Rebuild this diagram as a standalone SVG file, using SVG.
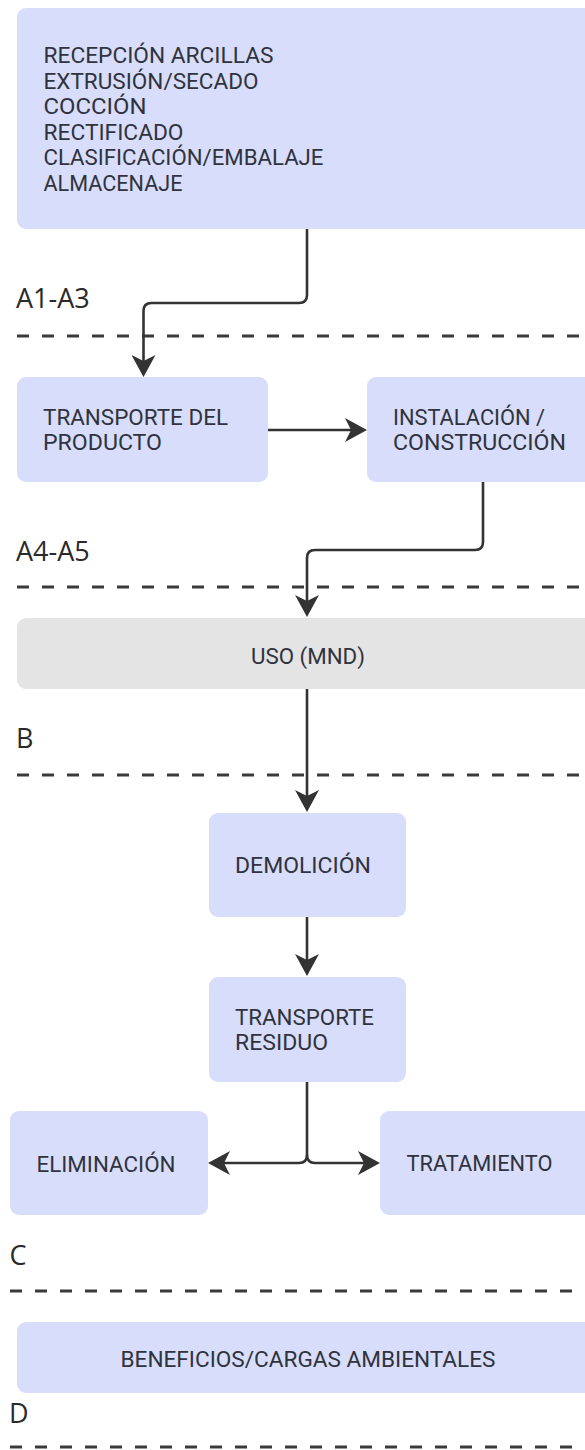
<svg xmlns="http://www.w3.org/2000/svg" width="585" height="1450" viewBox="0 0 585 1450">
<style>
.box{fill:#d7ddfa;}
.grey{fill:#e4e4e4;}
.t{font-family:Roboto,"Liberation Sans",sans-serif;font-size:22.5px;fill:#30333d;}
.lbl{font-family:"Open Sans","Noto Sans",sans-serif;font-size:27px;fill:#2a2a2a;}
.dash{stroke:#3a3a3a;stroke-width:3;stroke-dasharray:12 13;fill:none;}
.c{stroke:#333;stroke-width:2.6;fill:none;marker-end:url(#ah);}
</style>
<defs>
<marker id="ah" markerUnits="userSpaceOnUse" markerWidth="22" markerHeight="24" viewBox="0 0 22 24" refX="11" refY="12" orient="auto">
<path d="M0,0 L22,12 L0,24 L6,12 Z" fill="#333"/>
</marker>
</defs>
<rect width="585" height="1450" fill="#ffffff"/>

<g id="phases">
<line class="dash" x1="17" y1="336" x2="585" y2="336"/>
<line class="dash" x1="17" y1="587" x2="585" y2="587"/>
<line class="dash" x1="17" y1="775" x2="585" y2="775"/>
<line class="dash" x1="10" y1="1291" x2="585" y2="1291"/>
<line class="dash" x1="10" y1="1447" x2="585" y2="1447"/>
<text class="lbl" x="16" y="308">A1-A3</text>
<text class="lbl" x="16" y="561">A4-A5</text>
<text class="lbl" x="16" y="748">B</text>
<text class="lbl" x="9.5" y="1265">C</text>
<text class="lbl" x="9" y="1423">D</text>
</g>

<g id="n-produccion">
<rect class="box" x="17" y="8" width="600" height="221" rx="9"/>
<text class="t" x="43.5" y="63" textLength="230" lengthAdjust="spacingAndGlyphs">RECEPCIÓN ARCILLAS</text>
<text class="t" x="43.5" y="88.5" textLength="215" lengthAdjust="spacingAndGlyphs">EXTRUSIÓN/SECADO</text>
<text class="t" x="43.5" y="114" textLength="103" lengthAdjust="spacingAndGlyphs">COCCIÓN</text>
<text class="t" x="43.5" y="139.5" textLength="140" lengthAdjust="spacingAndGlyphs">RECTIFICADO</text>
<text class="t" x="43.5" y="165" textLength="280" lengthAdjust="spacingAndGlyphs">CLASIFICACIÓN/EMBALAJE</text>
<text class="t" x="43.5" y="190.5" textLength="139" lengthAdjust="spacingAndGlyphs">ALMACENAJE</text>
</g>

<g id="n-transporte-producto">
<rect class="box" x="17" y="377" width="251" height="105" rx="9"/>
<text class="t" x="43" y="425" textLength="185" lengthAdjust="spacingAndGlyphs">TRANSPORTE DEL</text>
<text class="t" x="43" y="450" textLength="119" lengthAdjust="spacingAndGlyphs">PRODUCTO</text>
</g>

<g id="n-instalacion">
<rect class="box" x="367" y="377" width="260" height="105" rx="9"/>
<text class="t" x="393" y="425" textLength="152" lengthAdjust="spacingAndGlyphs">INSTALACIÓN /</text>
<text class="t" x="393" y="450" textLength="173" lengthAdjust="spacingAndGlyphs">CONSTRUCCIÓN</text>
</g>

<g id="n-uso">
<rect class="grey" x="17" y="618" width="600" height="71" rx="9"/>
<text class="t" x="308" y="664" text-anchor="middle" textLength="114" lengthAdjust="spacingAndGlyphs">USO (MND)</text>
</g>

<g id="n-demolicion">
<rect class="box" x="209" y="813" width="197" height="104" rx="9"/>
<text class="t" x="235" y="873" textLength="136" lengthAdjust="spacingAndGlyphs">DEMOLICIÓN</text>
</g>

<g id="n-transporte-residuo">
<rect class="box" x="209" y="977" width="197" height="105" rx="9"/>
<text class="t" x="235" y="1025" textLength="139" lengthAdjust="spacingAndGlyphs">TRANSPORTE</text>
<text class="t" x="235" y="1050" textLength="93" lengthAdjust="spacingAndGlyphs">RESIDUO</text>
</g>

<g id="n-eliminacion">
<rect class="box" x="10" y="1111" width="198" height="104" rx="9"/>
<text class="t" x="36.5" y="1171.5" textLength="139" lengthAdjust="spacingAndGlyphs">ELIMINACIÓN</text>
</g>

<g id="n-tratamiento">
<rect class="box" x="380" y="1111" width="240" height="104" rx="9"/>
<text class="t" x="406.5" y="1171" textLength="146" lengthAdjust="spacingAndGlyphs">TRATAMIENTO</text>
</g>

<g id="n-beneficios">
<rect class="box" x="17" y="1322" width="600" height="71" rx="9"/>
<text class="t" x="308" y="1367" text-anchor="middle" textLength="375" lengthAdjust="spacingAndGlyphs">BENEFICIOS/CARGAS AMBIENTALES</text>
</g>

<g id="connectors">
<path class="c" d="M307,229 V295 Q307,303 299,303 H151.5 Q143.5,303 143.5,311 V366"/>
<path class="c" d="M268,430 H356"/>
<path class="c" d="M483,482 V542 Q483,550 475,550 H315 Q307,550 307,558 V606"/>
<path class="c" d="M307,689 V801"/>
<path class="c" d="M307,917 V965"/>
<path class="c" d="M307,1082 V1155 Q307,1163 299,1163 H219"/>
<path class="c" d="M307,1155 Q307,1163 315,1163 H369"/>
</g>
</svg>
